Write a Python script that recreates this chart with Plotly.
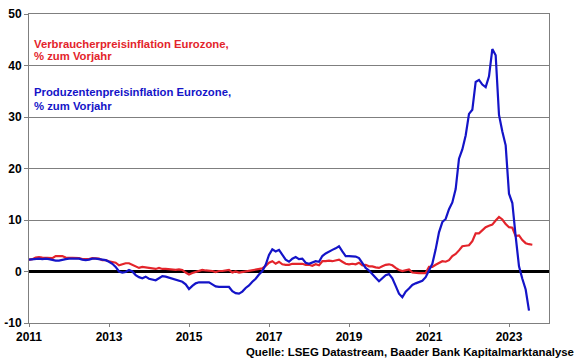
import plotly.graph_objects as go

start_year = 2011

# Monthly y/y rates, Jan 2011 onwards
verbraucher = [
    2.3, 2.4, 2.7, 2.8, 2.7, 2.7, 2.6, 2.6, 3.0, 3.0, 3.0, 2.7,
    2.7, 2.7, 2.7, 2.6, 2.4, 2.4, 2.4, 2.6, 2.6, 2.5, 2.2, 2.2,
    2.0, 1.8, 1.7, 1.2, 1.4, 1.6, 1.6, 1.3, 1.1, 0.7, 0.9, 0.8,
    0.8, 0.7, 0.5, 0.7, 0.5, 0.5, 0.4, 0.4, 0.3, 0.4, 0.3, -0.2,
    -0.6, -0.3, -0.1, 0.0, 0.3, 0.2, 0.2, 0.1, -0.1, 0.1, 0.1, 0.2,
    0.3, -0.2, 0.0, -0.2, -0.1, 0.1, 0.2, 0.2, 0.4, 0.5, 0.6, 1.1,
    1.7, 2.0, 1.5, 1.9, 1.4, 1.3, 1.3, 1.5, 1.5, 1.4, 1.5, 1.3,
    1.3, 1.1, 1.4, 1.2, 2.0, 2.0, 2.1, 2.0, 2.1, 2.3, 1.9, 1.5,
    1.4, 1.5, 1.4, 1.7, 1.2, 1.3, 1.0, 1.0, 0.8, 0.7, 1.0, 1.3,
    1.4, 1.2, 0.7, 0.3, 0.1, 0.3, 0.4, -0.2, -0.3, -0.3, -0.3, -0.3,
    0.9, 0.9, 1.3, 1.6, 2.0, 1.9, 2.2, 3.0, 3.4, 4.1, 4.9, 5.0,
    5.1, 5.9, 7.4, 7.4, 8.1, 8.6, 8.9, 9.1, 9.9, 10.6, 10.1, 9.2,
    8.6, 8.5, 6.9, 7.0, 6.1, 5.5, 5.3, 5.2,
]

produzenten = [
    2.3, 2.4, 2.5, 2.5, 2.4, 2.5, 2.4, 2.2, 2.1, 2.1, 2.3, 2.4,
    2.5, 2.5, 2.6, 2.5, 2.3, 2.2, 2.3, 2.5, 2.5, 2.4, 2.3, 2.2,
    1.9, 1.5, 0.9, 0.0, -0.2, -0.1, 0.3, 0.0, -0.7, -1.1, -1.3, -1.0,
    -1.4, -1.6, -1.7, -1.3, -0.9, -1.0, -1.2, -1.4, -1.6, -1.7, -2.0, -2.5,
    -3.4, -2.8, -2.3, -2.1, -2.1, -2.2, -2.1, -2.5, -2.9, -3.0, -3.0, -3.0,
    -3.0, -3.8, -4.2, -4.3, -3.9, -3.2, -2.7, -2.0, -1.4, -0.6, 0.1, 1.3,
    3.2, 4.3, 3.9, 4.2, 3.2, 2.3, 1.9, 2.5, 2.8, 2.4, 2.5, 1.7,
    1.5, 1.7, 2.0, 1.9, 3.0, 3.5, 3.9, 4.2, 4.5, 4.9, 3.9, 3.0,
    3.0, 3.0, 2.9, 2.6, 1.6, 0.7, 0.2, -0.6, -1.2, -1.9, -1.3, -0.7,
    -0.5, -1.3, -2.8, -4.3, -5.0, -3.9, -3.3, -2.6, -2.3, -2.0, -1.8, -1.1,
    0.2, 1.5, 4.3, 7.6, 9.6, 10.2, 12.1, 13.4, 16.0, 21.9, 23.7, 26.4,
    30.6, 31.4, 36.8, 37.2, 36.3, 35.8, 37.9, 43.2, 42.0, 30.4, 27.2, 24.5,
    15.1, 13.3, 6.8, 1.0, -1.4, -3.5, -7.6,
]

x_ticks = [2011, 2013, 2015, 2017, 2019, 2021, 2023]
y_ticks = [-10, 0, 10, 20, 30, 40, 50]

label_vpi = ["Verbraucherpreisinflation Eurozone,", "% zum Vorjahr"]
label_ppi = ["Produzentenpreisinflation Eurozone,", "% zum Vorjahr"]
source = "Quelle: LSEG Datastream, Baader Bank Kapitalmarktanalyse"

RED = "#E3242B"
BLUE = "#1414C8"
GRID = "#7F7F7F"
FONT = "Liberation Sans"

x_vpi = [start_year + i / 12 for i in range(len(verbraucher))]
x_ppi = [start_year + i / 12 for i in range(len(produzenten))]

fig = go.Figure()
fig.add_trace(go.Scatter(x=x_vpi, y=verbraucher, mode="lines",
                         line=dict(color=RED, width=2.2), showlegend=False))
fig.add_trace(go.Scatter(x=x_ppi, y=produzenten, mode="lines",
                         line=dict(color=BLUE, width=2.2), showlegend=False))

annotations = []
for txt, ypos in zip(label_vpi, [0.9045, 0.8647]):
    annotations.append(dict(text="<b>" + txt + "</b>", x=0.006, y=ypos,
                            xref="paper", yref="paper",
                            xanchor="left", yanchor="middle", showarrow=False,
                            font=dict(family=FONT, size=11.3, color=RED)))
for txt, ypos in zip(label_ppi, [0.746, 0.703]):
    annotations.append(dict(text="<b>" + txt + "</b>", x=0.006, y=ypos,
                            xref="paper", yref="paper",
                            xanchor="left", yanchor="middle", showarrow=False,
                            font=dict(family=FONT, size=11.3, color=BLUE)))
annotations.append(dict(text="<b>" + source + "</b>", x=1.051, y=-0.094,
                        xref="paper", yref="paper",
                        xanchor="right", yanchor="middle", showarrow=False,
                        font=dict(family=FONT, size=11.4, color="#000000")))

fig.update_layout(
    width=580, height=358,
    margin=dict(l=29, r=31, t=14, b=35, pad=0, autoexpand=False),
    paper_bgcolor="white", plot_bgcolor="white",
    annotations=annotations,
    xaxis=dict(type="linear", range=[2011, 2024], tickmode="array", tickvals=x_ticks,
               ticktext=["<b>%d</b>" % t for t in x_ticks], showgrid=False, zeroline=False,
               showline=True, linecolor=GRID, linewidth=1, mirror=True,
               ticks="outside", ticklen=3, tickcolor=GRID, automargin=False,
               tickfont=dict(family=FONT, size=12, color="#000000")),
    yaxis=dict(type="linear", range=[-10, 50], tickmode="array", tickvals=y_ticks,
               ticktext=["<b>%d</b>" % t for t in y_ticks],
               showgrid=True, gridcolor=GRID, gridwidth=1,
               zeroline=True, zerolinecolor="#000000", zerolinewidth=3,
               showline=True, linecolor=GRID, linewidth=1, mirror=True,
               ticks="outside", ticklen=4, tickcolor=GRID, automargin=False,
               tickfont=dict(family=FONT, size=12, color="#000000")),
)

fig.write_html("out.html", config={"displayModeBar": False},
               post_script="document.body.style.margin='0px';")
